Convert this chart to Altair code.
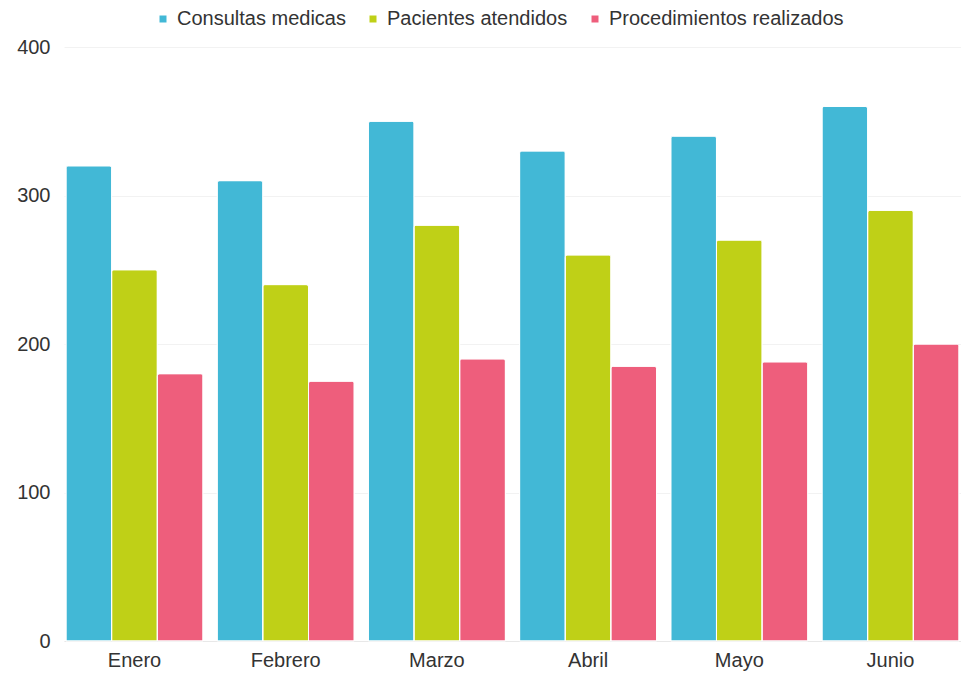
import altair as alt
import pandas as pd

# Monthly activity per service line
meses = ["Enero", "Febrero", "Marzo", "Abril", "Mayo", "Junio"]
series = ["Consultas medicas", "Pacientes atendidos", "Procedimientos realizados"]
consultas = [320, 310, 350, 330, 340, 360]
pacientes = [250, 240, 280, 260, 270, 290]
procedimientos = [180, 175, 190, 185, 188, 200]
colores = ["#42b8d6", "#bfd017", "#ee5e7c"]
y_ticks = [0, 100, 200, 300, 400]

rows = []
for nombre, valores in zip(series, [consultas, pacientes, procedimientos]):
    for mes, v in zip(meses, valores):
        rows.append({"Mes": mes, "Serie": nombre, "Valor": v})
df = pd.DataFrame(rows)

FONT = "Liberation Sans"
TEXT = "#333333"

chart = (
    alt.Chart(df)
    .mark_bar(cornerRadiusTopLeft=2.5, cornerRadiusTopRight=2.5, stroke="white", strokeWidth=1)
    .encode(
        x=alt.X(
            "Mes:N",
            sort=meses,
            scale=alt.Scale(paddingInner=0.094, paddingOuter=0.0132),
            axis=alt.Axis(
                title=None,
                labelAngle=0,
                labelFontSize=20,
                labelFont=FONT,
                labelColor=TEXT,
                labelPadding=9,
                ticks=False,
                domainColor="#e8e8e8",
                grid=False,
            ),
        ),
        xOffset=alt.XOffset("Serie:N", sort=series, scale=alt.Scale(paddingInner=0, paddingOuter=0)),
        y=alt.Y(
            "Valor:Q",
            scale=alt.Scale(domain=[0, 400], nice=False),
            axis=alt.Axis(
                title=None,
                values=y_ticks,
                labelFontSize=20,
                labelFont=FONT,
                labelColor=TEXT,
                labelPadding=14,
                ticks=False,
                domain=False,
                gridColor="#f2f2f2",
                gridWidth=1,
            ),
        ),
        color=alt.Color(
            "Serie:N",
            sort=series,
            scale=alt.Scale(domain=series, range=colores),
            legend=alt.Legend(
                title=None,
                orient="none",
                direction="horizontal",
                legendX=89,
                legendY=-38,
                symbolType="square",
                symbolSize=49,
                symbolStrokeWidth=0,
                labelFontSize=20,
                labelFont=FONT,
                labelColor=TEXT,
                labelOffset=4,
                labelLimit=0,
                columnPadding=17,
            ),
        ),
    )
    .properties(
        width=897,
        height=594,
        padding={"left": 64, "top": 47, "right": 0, "bottom": 32},
        autosize=alt.AutoSizeParams(type="none"),
    )
    .configure_view(stroke=None)
)

chart.save("out.html", embed_options={"renderer": "svg", "actions": False})
